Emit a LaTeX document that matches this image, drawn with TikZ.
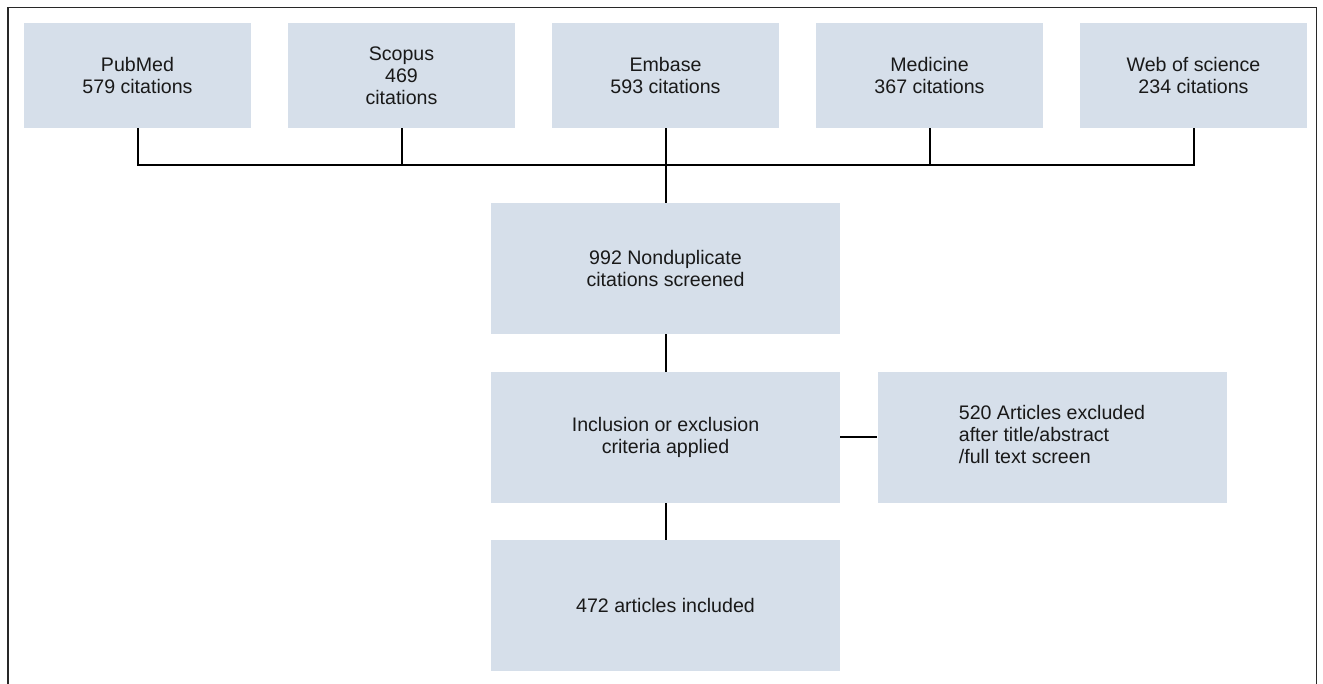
\documentclass[tikz,border=0pt]{standalone}
\usepackage{fontspec}
\setmainfont{Liberation Sans}
\definecolor{boxfill}{RGB}{214,223,234}
\definecolor{framegray}{RGB}{40,40,40}
\begin{document}
\begin{tikzpicture}[x=1pt,y=-1pt,
  box/.style={fill=boxfill, draw=none, inner sep=0pt, minimum width=349pt, minimum height=131pt,
    align=center, font=\fontsize{19.6}{22}\selectfont, text=black!90},
  src/.style={box, minimum width=227pt, minimum height=105pt},
  link/.style={line width=2pt, black}]
\useasboundingbox (0,0) rectangle (1323,684);
\fill[white] (0,0) rectangle (1323,684);
\draw[framegray, line width=1.5pt] (8,700) -- (8,7.5) -- (1316.5,7.5) -- (1316.5,700);

\node[src] (pub) at (137.5,75.5) {PubMed\\579 citations};
\node[src] (sco) at (401.5,75.5) {Scopus\\469\\citations};
\node[src] (emb) at (665.5,75.5) {Embase\\593 citations};
\node[src] (med) at (929.5,75.5) {Medicine\\367 citations};
\node[src] (web) at (1193.5,75.5) {Web of science\\234 citations};

\coordinate (bus) at (665.5,165);

\node[box] (nondup) at (665.5,268.5) {992 Nonduplicate\\citations screened};
\node[box] (incl) at (665.5,437.5) {Inclusion or exclusion\\criteria applied};
\node[box] (excl) at (1052,437.5) {\begin{tabular}{@{}l@{}}520 Articles excluded\\after title/abstract\\/full text screen\end{tabular}};
\node[box] (final) at (665.5,605.5) {472 articles included};

\draw[link] (pub.south) |- (bus) -| (web.south);
\draw[link] (sco.south) -- (sco.south |- bus);
\draw[link] (med.south) -- (med.south |- bus);
\draw[link] (emb.south) -- (nondup.north);
\draw[link] (nondup.south) -- (incl.north);
\draw[link] (incl.east) -- (excl.west);
\draw[link] (incl.south) -- (final.north);
\end{tikzpicture}
\end{document}
